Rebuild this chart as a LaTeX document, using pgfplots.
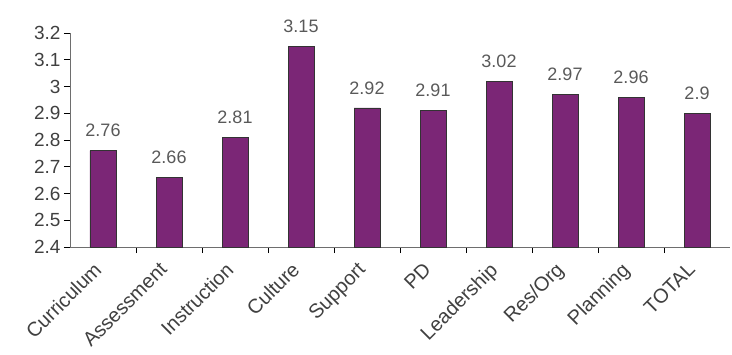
\documentclass[border=0pt]{standalone}
\usepackage{pgfplots}
\pgfplotsset{compat=1.18}
\usepackage{fontspec}
\setmainfont{Liberation Sans}
\definecolor{barpurple}{RGB}{123,38,118}
\definecolor{axgrey}{RGB}{110,110,110}
\begin{document}
\begin{tikzpicture}
\useasboundingbox (-70pt,-107pt) rectangle (662pt,247pt);
\begin{axis}[
  at={(0,0)}, anchor=south west,
  scale only axis,
  width=660pt, height=214pt,
  ybar, bar width=26pt,
  xmin=-0.5, xmax=9.5,
  ymin=2.4, ymax=3.2,
  ytick={2.4,2.5,2.6,2.7,2.8,2.9,3,3.1,3.2},
  xtick=data,
  xticklabels={Curriculum,Assessment,Instruction,Culture,Support,PD,Leadership,Res/Org,Planning,TOTAL},
  minor xtick={0.5,1.5,2.5,3.5,4.5,5.5,6.5,7.5,8.5},
  axis x line*=bottom, axis y line*=left,
  axis line style={axgrey, line width=0.8pt},
  tick align=outside,
  major x tick style={draw=none},
  minor tick length=6pt, major tick length=6pt,
  tick style={black, line width=0.8pt},
  /pgf/number format/assume math mode=true,
  ticklabel style={font=\fontsize{19}{21}\selectfont, text=black!75},
  xticklabel style={rotate=45, anchor=north east, font=\fontsize{20}{22}\selectfont, text=black!75, inner sep=1pt, xshift=-12pt, yshift=3pt},
  nodes near coords,
  every node near coord/.append style={font=\fontsize{18}{20}\selectfont, text=black!65, yshift=10pt},
  clip=false,
]
\addplot[fill=barpurple, draw=black!80, line width=0.6pt] coordinates {
(0,2.76) (1,2.66) (2,2.81) (3,3.15) (4,2.92) (5,2.91) (6,3.02) (7,2.97) (8,2.96) (9,2.9)};
\end{axis}
\end{tikzpicture}
\end{document}
